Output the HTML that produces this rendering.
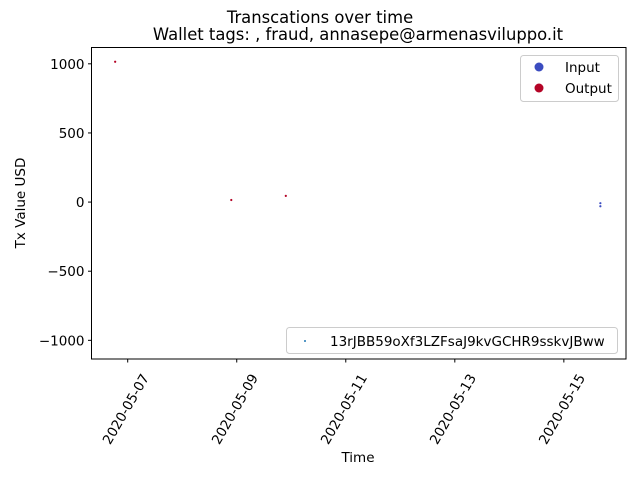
<!DOCTYPE html>
<html><head><meta charset="utf-8"><style>
html,body{margin:0;padding:0;background:#fff;}
svg{display:block;font-family:"DejaVu Sans","Liberation Sans",sans-serif;}
</style></head><body>
<svg id="chart" width="640" height="480" viewBox="0 0 640 480" xmlns="http://www.w3.org/2000/svg">
<rect width="640" height="480" fill="#fff"/>
<text x="320" y="23" font-size="16.4" text-anchor="middle">Transcations over time</text>
<text x="358" y="40" font-size="16.4" text-anchor="middle">Wallet tags: , fraud, annasepe@armenasviluppo.it</text>
<text transform="translate(25,203) rotate(-90)" font-size="13.5" text-anchor="middle">Tx Value USD</text>
<text x="358" y="462" font-size="13.5" text-anchor="middle">Time</text>
<g id="ticks"></g>
<g id="marks"></g>
<rect x="91.5" y="47.5" width="534.5" height="311.5" fill="none" stroke="#000" stroke-width="1"/>
<g>
<rect x="520.5" y="55.5" width="98" height="46" rx="3" fill="#fff" stroke="#ccc"/>
<circle cx="539" cy="67" r="4.5" fill="#3b4cc0"/>
<text x="565" y="72" font-size="13.5">Input</text>
<circle cx="539" cy="88" r="4.5" fill="#b40426"/>
<text x="565" y="93" font-size="13.5">Output</text>
</g>
<g>
<rect x="286.5" y="327.5" width="331" height="26" rx="3" fill="#fff" stroke="#ccc"/>
<circle cx="305" cy="341" r="1" fill="#1f77b4"/>
<text x="330" y="346" font-size="13.5">13rJBB59oXf3LZFsaJ9kvGCHR9sskvJBww</text>
</g>
</svg>
<script>
// data: day-of-May (fractional), USD value, type
const txDays = [6.77, 8.9, 9.9, 15.67, 15.67];
const txValues = [1015, 15, 45, -8, -30];
const txTypes = ["Output", "Output", "Output", "Input", "Input"];
const yTicks = [1000, 500, 0, -500, -1000];
const yTickLabels = ["1000", "500", "0", "\u2212500", "\u22121000"];
const xTicks = [7, 9, 11, 13, 15];
const xTickLabels = ["2020-05-07", "2020-05-09", "2020-05-11", "2020-05-13", "2020-05-15"];

const X0 = 91.5, X1 = 626, Y0 = 47.5, Y1 = 359;
const dMin = 6.336, dMax = 16.14, vMin = -1135, vMax = 1118;
function xs(d){ return X0 + (d - dMin) / (dMax - dMin) * (X1 - X0); }
function ys(v){ return Y1 - (v - vMin) / (vMax - vMin) * (Y1 - Y0); }
const NS = "http://www.w3.org/2000/svg";
const tg = document.getElementById("ticks");
const mg = document.getElementById("marks");
yTicks.forEach((v, i) => {
  const y = ys(v);
  const l = document.createElementNS(NS, "line");
  l.setAttribute("x1", X0 - 3.5); l.setAttribute("x2", X0); l.setAttribute("y1", y); l.setAttribute("y2", y);
  l.setAttribute("stroke", "#000");
  
  
  tg.appendChild(l);
  const t = document.createElementNS(NS, "text");
  t.setAttribute("x", X0 - 7); t.setAttribute("y", y + 5);
  t.setAttribute("font-size", "13.5"); t.setAttribute("text-anchor", "end");
  t.textContent = yTickLabels[i];
  
  
  tg.appendChild(t);
});
xTicks.forEach((d, i) => {
  const x = xs(d);
  const l = document.createElementNS(NS, "line");
  l.setAttribute("x1", x); l.setAttribute("x2", x); l.setAttribute("y1", Y1); l.setAttribute("y2", Y1 + 3.5);
  l.setAttribute("stroke", "#000");
  
  
  tg.appendChild(l);
  const t = document.createElementNS(NS, "text");
  t.setAttribute("transform", "translate(" + (x - 2) + "," + (Y1 + 50) + ") rotate(-60)");
  t.setAttribute("font-size", "13.5"); t.setAttribute("text-anchor", "middle");
  t.setAttribute("dy", "0.35em");
  t.textContent = xTickLabels[i];
  
  
  tg.appendChild(t);
});
txDays.forEach((d, i) => {
  const c = document.createElementNS(NS, "circle");
  c.setAttribute("cx", xs(d)); c.setAttribute("cy", ys(txValues[i])); c.setAttribute("r", 1.1);
  c.setAttribute("fill", txTypes[i] === "Input" ? "#3b4cc0" : "#b40426");
  
  
  mg.appendChild(c);
});
</script>
</body></html>
